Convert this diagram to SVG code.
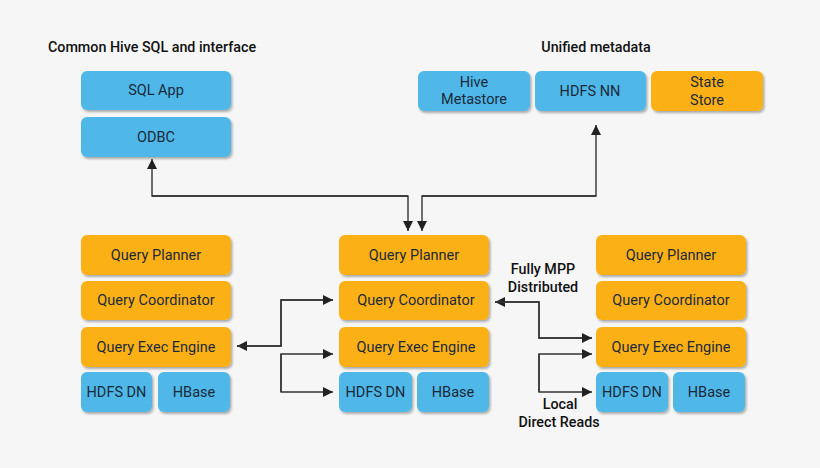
<svg xmlns="http://www.w3.org/2000/svg" width="820" height="468" viewBox="0 0 820 468">
<defs>
<filter id="sh" x="-10%" y="-20%" width="130%" height="150%">
<feDropShadow dx="1.5" dy="2" stdDeviation="1.2" flood-color="#000" flood-opacity="0.3"/>
</filter>
<marker id="ah" viewBox="0 0 10 10" refX="10" refY="5" markerWidth="10" markerHeight="10" markerUnits="userSpaceOnUse" orient="auto">
<path d="M0,0 L10,5 L0,10 z" fill="#222"/>
</marker>
<style>
.b{fill:#4fb8e8;filter:url(#sh)}
.o{fill:#fbb117;filter:url(#sh)}
.t{font-family:Roboto,"Liberation Sans",sans-serif;font-size:14.5px;fill:#1b2a3a;text-anchor:middle}
.h{font-family:Roboto,"Liberation Sans",sans-serif;font-size:14.3px;font-weight:500;fill:#111;text-anchor:middle}
.c{fill:none;stroke:#333;stroke-width:1.4;marker-end:url(#ah)}
</style>
</defs>
<rect width="820" height="468" fill="#f6f6f6"/>
<text class="h" x="152" y="52">Common Hive SQL and interface</text>
<text class="h" x="596" y="52">Unified metadata</text>
<g id="sqlapp"><rect class="b" x="81" y="71" width="150" height="39" rx="6"/><text class="t" x="156" y="95">SQL App</text></g>
<g id="odbc"><rect class="b" x="81" y="117" width="150" height="40" rx="6"/><text class="t" x="156" y="142">ODBC</text></g>
<g id="hivemeta"><rect class="b" x="418" y="71" width="112" height="40" rx="6"/><text class="t" x="474" y="87">Hive</text><text class="t" x="474" y="104">Metastore</text></g>
<g id="hdfsnn"><rect class="b" x="535" y="71" width="111" height="40" rx="6"/><text class="t" x="590" y="96">HDFS NN</text></g>
<g id="statestore"><rect class="o" x="651" y="71" width="112" height="40" rx="6"/><text class="t" x="707" y="87">State</text><text class="t" x="707" y="105">Store</text></g>

<g id="l-planner"><rect class="o" x="81" y="235" width="150" height="40" rx="6"/><text class="t" x="156" y="260">Query Planner</text></g>
<g id="l-coord"><rect class="o" x="81" y="281" width="150" height="39" rx="6"/><text class="t" x="156" y="305">Query Coordinator</text></g>
<g id="l-exec"><rect class="o" x="81" y="327" width="150" height="40" rx="6"/><text class="t" x="156" y="352">Query Exec Engine</text></g>
<g id="l-hdfsdn"><rect class="b" x="81" y="372" width="71" height="40" rx="6"/><text class="t" x="116.5" y="397">HDFS DN</text></g>
<g id="l-hbase"><rect class="b" x="158" y="372" width="72" height="40" rx="6"/><text class="t" x="194" y="397">HBase</text></g>

<g id="m-planner"><rect class="o" x="339" y="235" width="150" height="40" rx="6"/><text class="t" x="414" y="260">Query Planner</text></g>
<g id="m-coord"><rect class="o" x="339" y="281" width="150" height="39" rx="6"/><text class="t" x="416" y="305">Query Coordinator</text></g>
<g id="m-exec"><rect class="o" x="339" y="327" width="150" height="40" rx="6"/><text class="t" x="416" y="352">Query Exec Engine</text></g>
<g id="m-hdfsdn"><rect class="b" x="339" y="372" width="73" height="40" rx="6"/><text class="t" x="375.5" y="397">HDFS DN</text></g>
<g id="m-hbase"><rect class="b" x="417" y="372" width="72" height="40" rx="6"/><text class="t" x="453" y="397">HBase</text></g>

<g id="r-planner"><rect class="o" x="596" y="235" width="150" height="40" rx="6"/><text class="t" x="671" y="260">Query Planner</text></g>
<g id="r-coord"><rect class="o" x="596" y="281" width="150" height="39" rx="6"/><text class="t" x="671" y="305">Query Coordinator</text></g>
<g id="r-exec"><rect class="o" x="596" y="327" width="150" height="40" rx="6"/><text class="t" x="671" y="352">Query Exec Engine</text></g>
<g id="r-hdfsdn"><rect class="b" x="596" y="372" width="72" height="40" rx="6"/><text class="t" x="632" y="397">HDFS DN</text></g>
<g id="r-hbase"><rect class="b" x="673" y="372" width="72" height="40" rx="6"/><text class="t" x="709" y="397">HBase</text></g>

<g id="labels">
<text class="h" x="543" y="274">Fully MPP</text>
<text class="h" x="543" y="292">Distributed</text>
<text class="h" x="560" y="409">Local</text>
<text class="h" x="559" y="427">Direct Reads</text>
</g>

<g id="connectors">
<path class="c" d="M408,196 H152 V159"/>
<path class="c" d="M152,196 H408 V231"/>
<path class="c" d="M596,196 H422 V231"/>
<path class="c" d="M422,196 H596 V125"/>
<path class="c" d="M333,300 H281 V346 H237"/>
<path class="c" d="M237,346 H281 V300 H333"/>
<path class="c" d="M281,392 V354 H333"/>
<path class="c" d="M281,354 V392 H333"/>
<path class="c" d="M592,338 H539 V302 H495"/>
<path class="c" d="M495,302 H539 V338 H592"/>
<path class="c" d="M539,392 V354 H592"/>
<path class="c" d="M539,354 V392 H592"/>
</g>
</svg>
